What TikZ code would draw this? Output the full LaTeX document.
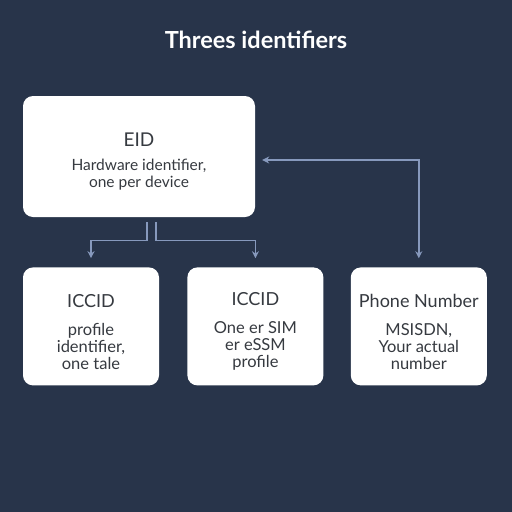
\documentclass[tikz,border=0pt]{standalone}
\usepackage{fontspec}
\setmainfont{Lato}
\usepackage{tikz}
\usetikzlibrary{positioning,arrows.meta}

\definecolor{bgnavy}{HTML}{28344A}
\definecolor{linkblue}{HTML}{8799BD}
\definecolor{inkgray}{HTML}{363A40}

\newcommand{\boxhead}[1]{{\fontsize{18}{20}\selectfont\rule{0pt}{24pt}#1}}

\begin{document}
\begin{tikzpicture}[node distance=28pt,
  idbox/.style={draw=none,fill=white,rounded corners=10pt,align=center,
    text=inkgray,inner sep=0pt,font=\fontsize{16.5}{17}\selectfont},
  small/.style={idbox,minimum width=136pt,minimum height=118pt},
  link/.style={draw=linkblue,line width=1.4pt,-{Stealth[length=7pt,width=7pt]}}]
  \useasboundingbox[fill=bgnavy] (0,0) rectangle (512pt,-512pt);

  \node[text=white,font=\bfseries\fontsize{23.5}{26}\selectfont] (title) at (256pt,-40pt) {Threes identifiers};

  \node[idbox,minimum width=232pt,minimum height=121pt,
        font=\fontsize{15.5}{17}\selectfont] (eid) at (139pt,-156.5pt)
    {{\fontsize{19}{20}\selectfont\rule{0pt}{24pt}EID}\\[7pt]
     Hardware identifier,\\
     one per device};

  \node[small,below=50pt of eid.south west,anchor=north west] (iccA)
    {\boxhead{ICCID}\\[11pt]
     profile\\
     identifier,\\
     one tale};
  \node[small] (iccB) [right = of iccA]
    {\boxhead{ICCID}\\[11pt]
     One er SIM\\
     er eSSM\\
     profile};
  \node[small] (phone) [right = 27pt of iccB]
    {\boxhead{Phone Number}\\[11pt]
     MSISDN,\\
     Your actual\\
     number};

  % connectors
  \coordinate (splitA) at ([xshift=8pt,yshift=-5pt]eid.south);
  \coordinate (splitB) at ([xshift=17pt,yshift=-5pt]eid.south);
  \draw[link] (splitA) -- ++(0,-18pt) -| ([yshift=9pt]iccA.north);
  \draw[link] (splitB) -- ++(0,-18pt) -| ([yshift=9pt]iccB.north);
  \draw[link,{Stealth[length=7pt,width=7pt]}-{Stealth[length=7pt,width=7pt]}]
    ([xshift=7pt,yshift=-3.5pt]eid.east) -| ([yshift=9pt]phone.north);
\end{tikzpicture}
\end{document}
